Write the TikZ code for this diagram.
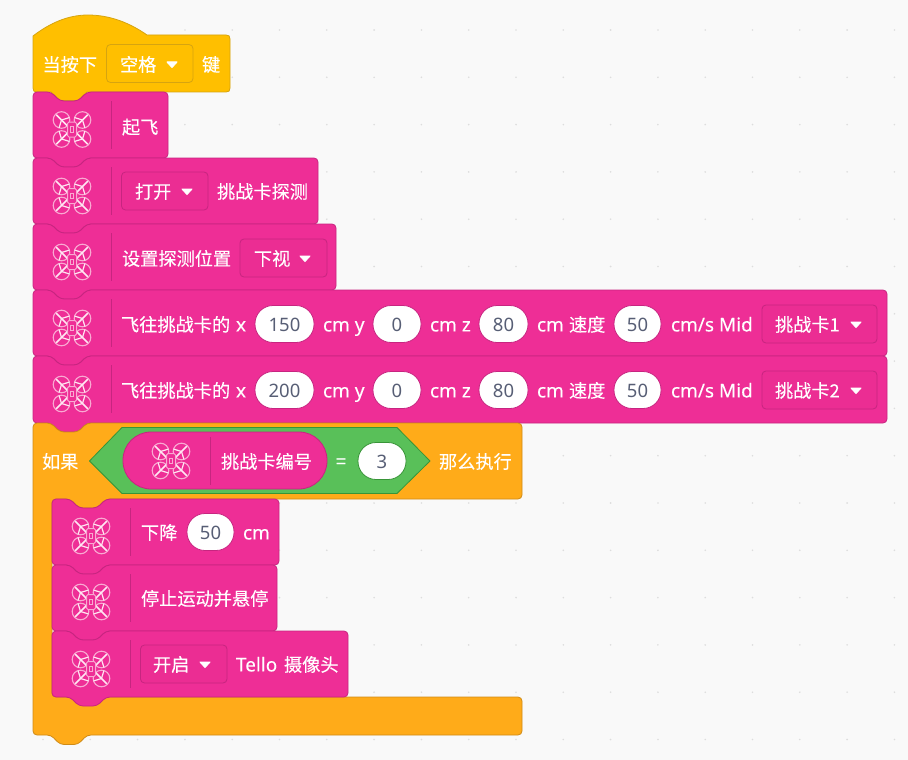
\documentclass[tikz,border=0pt]{standalone}
\usepackage{fontspec}
\setmainfont{Noto Sans CJK SC}
\newfontfamily\cjkf[FakeBold=0.15]{Noto Sans CJK SC}
\newfontfamily\latinf[FakeBold=0.1]{Noto Sans}
\newfontfamily\valf{Noto Sans}
\definecolor{bgc}{HTML}{F9F9F9}
\definecolor{dotc}{HTML}{DDDDDD}
\definecolor{pinkc}{HTML}{EE2E96}
\definecolor{pinkd}{HTML}{C72580}
\definecolor{pinkb}{HTML}{EB2D93}
\definecolor{hatc}{HTML}{FFBF00}
\definecolor{hatd}{HTML}{D6A410}
\definecolor{orgc}{HTML}{FFAB19}
\definecolor{orgd}{HTML}{CF8B17}
\definecolor{grnc}{HTML}{59C059}
\definecolor{grnd}{HTML}{389438}
\definecolor{valc}{HTML}{575E75}
\definecolor{icoc}{HTML}{F9A9D2}
\definecolor{icow}{HTML}{FFE6F2}
\tikzset{
  pinkblock/.style={fill=pinkc,draw=pinkd,line width=0.8pt,rounded corners=4pt,line join=round},
  lbl/.style={anchor=base west,inner sep=0pt,outer sep=0pt,text=white,font=\fontsize{18.2}{20}\selectfont\cjkf},
  vallbl/.style={anchor=base,inner sep=0pt,outer sep=0pt,text=valc,font=\fontsize{18.5}{20}\selectfont\valf},
  seprule/.style={draw=pinkd,line width=1pt},
  tri/.style={fill=white,draw=white,line width=1pt,line join=round},
}
% x0 y0 x1 y1 : stack block
\newcommand{\stackblk}[4]{%
  \path[pinkblock] (#1,#2+10) -- (#1,#2) -- (#1+18,#2) -- (#1+27,#2+9) -- (#1+45,#2+9) -- (#1+54,#2)
    -- (#3,#2) -- (#3,#4) -- (#1+54,#4) -- (#1+45,#4+9) -- (#1+27,#4+9) -- (#1+18,#4) -- (#1,#4) -- cycle;
}
% cx cy : drone icon
\newcommand{\drone}[2]{%
  \begin{scope}[shift={(#1,#2)}]
    \foreach \sx/\sy/\a in {1/1/45,1/-1/-45,-1/1/135,-1/-1/-135}{
      \draw[icoc,line width=1.1pt] (\sx*10.5,\sy*9.5) circle[radius=8.3];
      \draw[icow,line width=1.2pt,line cap=round] (\sx*10.5,\sy*9.5) -- ++(\a+118:8);
      \draw[icow,line width=1.2pt,line cap=round] (\sx*10.5,\sy*9.5) -- ++(\a-118:8);
      \draw[icow,line width=1.6pt,line cap=round] (\sx*4.5,\sy*3.5) -- (\sx*15.5,\sy*14.5);
    }
    \draw[icoc,fill=pinkc,line width=1pt,rounded corners=1.5pt] (-4.5,-7.5) rectangle (4.5,7.5);
    \draw[icoc,line width=0.8pt] (-1.6,-2.8) rectangle (1.6,2.8);
  \end{scope}
}
\newcommand{\tx}[4]{\node[lbl] (#1) at (#2,#3+7.4) {#4};}
\newcommand{\txl}[4]{\node[lbl,font=\fontsize{19}{20}\selectfont\latinf] (#1) at (#2,#3+7.4) {#4};}
% name x0 x1 cy text [outline colour]
\newcommand{\pill}[6][pinkd]{%
  \draw[fill=white,draw=#1,line width=0.8pt,rounded corners=18pt] (#3,#5-18.5) rectangle (#4,#5+18.5);
  \node[vallbl] (#2) at ({(#3+#4)/2},#5+7) {#6};
}
% name x0 x1 cy textx text trix
\newcommand{\ddown}[7]{%
  \draw[fill=pinkb,draw=pinkd,line width=0.8pt,rounded corners=4pt] (#2,#4-19) rectangle (#3,#4+19);
  \tx{#1}{#5}{#4}{#6}
  \path[tri] (#7-5,#4-2) -- (#7+5,#4-2) -- (#7,#4+3.5) -- cycle;
}
\begin{document}
\begin{tikzpicture}[x=1pt,y=-1pt]
\useasboundingbox (0,0) rectangle (908,760);
\fill[bgc] (0,0) rectangle (908,760);
\foreach \i in {0,...,18}{\foreach \j in {0,...,15}{
  \fill[dotc] ({43+47.3*\i},{30+47.3*\j}) circle[radius=0.9];
}}
% hat
\path[fill=hatc,draw=hatd,line width=0.8pt,line join=round]
  (33,36) .. controls (50,23) and (68,15) .. (88,15) .. controls (110,15) and (130,23) .. (147,35)
  -- (226,35) .. controls (229,35) and (230,36) .. (230,39) -- (230,88) .. controls (230,91) and (229,92) .. (226,92)
  -- (87,92) -- (78,100.5) -- (60,100.5) -- (51,92) -- (37,92) .. controls (34,92) and (33,91) .. (33,88) -- cycle;
\tx{h1}{42.5}{64}{当按下}
\draw[fill=hatc,draw=hatd,line width=0.8pt,rounded corners=4pt] (106.5,44.5) rectangle (193,82.5);
\tx{h2}{120}{64}{空格}
\path[tri] (167,62) -- (177,62) -- (172,67.5) -- cycle;
\tx{h3}{202}{64}{键}
% stack
\stackblk{33}{92}{168}{158}
\drone{72}{129.5}\draw[seprule] (111.5,101) -- (111.5,149);
\tx{a1}{122}{126.5}{起飞}
\stackblk{33}{158}{318}{224}
\drone{72}{196}\draw[seprule] (111.5,167) -- (111.5,215);
\ddown{b1}{121.5}{208}{191}{135}{打开}{187}
\tx{b2}{217}{191}{挑战卡探测}
\stackblk{33}{224}{336}{290}
\drone{72}{262}\draw[seprule] (111.5,233) -- (111.5,281);
\tx{c1}{122}{258}{设置探测位置}
\ddown{c2}{240}{327}{258}{254}{下视}{305}
% fly rows
\stackblk{33}{290}{887}{356}
\drone{72}{328}\draw[seprule] (111.5,299) -- (111.5,347);
\tx{d1}{121}{324}{飞往挑战卡的}
\txl{d2}{236}{324}{x}
\pill{d3}{255}{314}{324}{150}
\txl{d4}{323}{324}{cm y}
\pill{d5}{373}{421}{324}{0}
\txl{d6}{430}{324}{cm z}
\pill{d7}{479}{528}{324}{80}
\txl{d8}{537}{324}{cm}
\tx{d9}{569}{324}{速度}
\pill{d10}{614}{661}{324}{50}
\txl{d11}{671}{324}{cm/s Mid}
\ddown{d12}{762}{877}{324}{775}{挑战卡1}{856}
\stackblk{33}{356}{887}{423}
\drone{72}{394}\draw[seprule] (111.5,365) -- (111.5,413);
\tx{e1}{121}{390}{飞往挑战卡的}
\txl{e2}{236}{390}{x}
\pill{e3}{255}{314}{390}{200}
\txl{e4}{323}{390}{cm y}
\pill{e5}{373}{421}{390}{0}
\txl{e6}{430}{390}{cm z}
\pill{e7}{479}{528}{390}{80}
\txl{e8}{537}{390}{cm}
\tx{e9}{569}{390}{速度}
\pill{e10}{614}{661}{390}{50}
\txl{e11}{671}{390}{cm/s Mid}
\ddown{e12}{762}{877}{390}{775}{挑战卡2}{856}
% if block
\path[fill=orgc,draw=orgd,line width=0.8pt,rounded corners=4pt,line join=round]
  (33,433) -- (33,423) -- (51,423) -- (60,432) -- (78,432) -- (87,423) -- (522,423) -- (522,499)
  -- (106,499) -- (97,508) -- (79,508) -- (70,499) -- (52,499) -- (52,697) -- (522,697) -- (522,735)
  -- (87,735) -- (78,744.5) -- (60,744.5) -- (51,735) -- (33,735) -- cycle;
\tx{f1}{42}{461}{如果}
\path[fill=grnc,draw=grnd,line width=0.8pt,line join=round] (89.5,461) -- (122,427.5) -- (397,427.5) -- (430,461) -- (397,493.5) -- (122,493.5) -- cycle;
\draw[fill=pinkc,draw=pinkd,line width=0.8pt,rounded corners=28pt] (123,432) rectangle (327,489);
\drone{171}{461}\draw[seprule] (210.5,437) -- (210.5,485);
\tx{f2}{221}{461}{挑战卡编号}
\node[lbl,anchor=base] (f3) at (341,468) {=};
\pill[grnd]{f4}{358}{406}{461}{3}
\tx{f5}{439}{461}{那么执行}
% inner
\stackblk{52}{499}{279}{565}
\drone{91}{536}\draw[seprule] (130.5,508) -- (130.5,556);
\tx{g1}{141}{532}{下降}
\pill{g2}{187}{234}{532}{50}
\txl{g3}{243}{532}{cm}
\stackblk{52}{565}{277}{631}
\drone{91}{602}\draw[seprule] (130.5,574) -- (130.5,622);
\tx{i1}{141}{598}{停止运动并悬停}
\stackblk{52}{631}{348}{697}
\drone{91}{669}\draw[seprule] (130.5,640) -- (130.5,688);
\ddown{j1}{140.5}{227}{664}{153}{开启}{205}
\txl{j2}{236}{664}{Tello}
\tx{j3}{284}{664}{摄像头}
\end{tikzpicture}
\end{document}
